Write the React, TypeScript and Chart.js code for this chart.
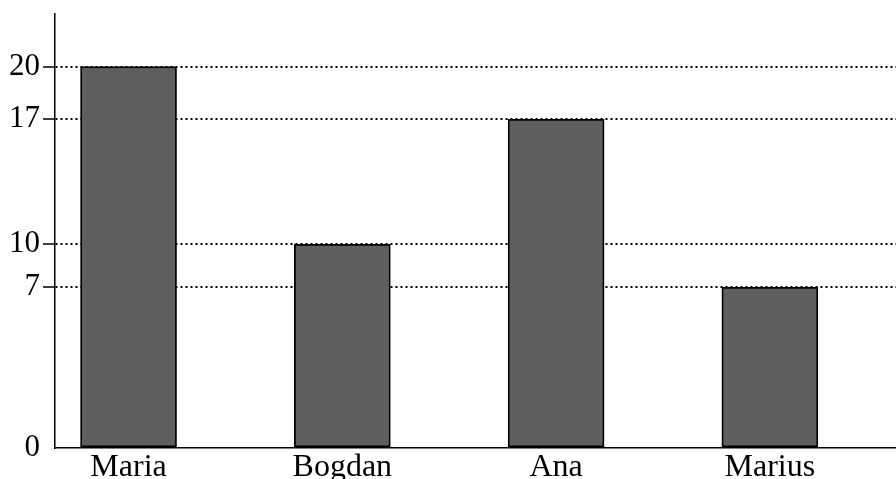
import React, { useEffect, useRef } from 'react';
import { Chart, registerables, LinearScale } from 'chart.js';

// ---- data ----
const categories = ['Maria', 'Bogdan', 'Ana', 'Marius'];
const values = [20, 10, 17, 7];
const yTickValues = [0, 7, 10, 17, 20];

// The reference axis is hand-drawn, not to scale: value -> fraction of axis height
const yKnotValues = [0, 7, 10, 17, 20, 22];
const yKnotFractions = [0, 0.3703, 0.4694, 0.7574, 0.8786, 1];

class PiecewiseScale extends LinearScale {
  static id = 'piecewise';
  static defaults = (LinearScale as any).defaults;

  getPixelForValue(value: any) {
    if (value === null || value === undefined || isNaN(value)) return NaN;
    const v = +value;
    let i = 1;
    while (i < yKnotValues.length - 1 && v > yKnotValues[i]) i++;
    const t = (v - yKnotValues[i - 1]) / (yKnotValues[i] - yKnotValues[i - 1]);
    const f = yKnotFractions[i - 1] + t * (yKnotFractions[i] - yKnotFractions[i - 1]);
    return this.getPixelForDecimal(f);
  }

  getValueForPixel(pixel: number) {
    const f = this.getDecimalForPixel(pixel);
    let i = 1;
    while (i < yKnotFractions.length - 1 && f > yKnotFractions[i]) i++;
    const t = (f - yKnotFractions[i - 1]) / (yKnotFractions[i] - yKnotFractions[i - 1]);
    return yKnotValues[i - 1] + t * (yKnotValues[i] - yKnotValues[i - 1]);
  }
}

Chart.register(...registerables, PiecewiseScale);

export default function App() {
  const ref = useRef<HTMLCanvasElement | null>(null);

  useEffect(() => {
    if (!ref.current) return;
    Chart.defaults.font.family = "'Liberation Serif', 'Times New Roman', serif";
    const chart = new Chart(ref.current, {
      type: 'bar',
      data: {
        datasets: [
          {
            data: values.map((v, i) => ({ x: i, y: v })),
            backgroundColor: '#5f5f5f',
            borderColor: '#000000',
            borderWidth: 1.8,
            borderSkipped: false,
            barThickness: 96,
          } as any,
        ],
      },
      options: {
        animation: false,
        responsive: false,
        maintainAspectRatio: false,
        layout: { padding: { top: 14, left: 0, right: 0, bottom: 0 } },
        plugins: {
          legend: { display: false },
          tooltip: { enabled: false },
          title: { display: false },
        },
        scales: {
          x: {
            type: 'linear',
            offset: false,
            min: -0.344,
            max: 3.59,
            grid: { display: false, offset: false },
            border: { display: true, color: '#000000', width: 1.5 },
            afterBuildTicks: (scale: any) => {
              scale.ticks = categories.map((_, i) => ({ value: i }));
            },
            afterFit: (scale: any) => {
              scale.height = 31;
              scale.paddingLeft = 0;
              scale.paddingRight = 0;
            },
            ticks: {
              color: '#000000',
              font: { size: 32 },
              padding: -8,
              maxRotation: 0,
              autoSkip: false,
              callback: (v: any) => categories[v] ?? '',
            },
          },
          y: {
            type: 'piecewise' as any,
            min: 0,
            max: 22,
            afterBuildTicks: (scale: any) => {
              scale.ticks = yTickValues.map((v) => ({ value: v }));
            },
            afterFit: (scale: any) => {
              scale.width = 55;
              scale.paddingTop = 0;
              scale.paddingBottom = 0;
            },
            border: { display: true, color: '#000000', width: 1.5, dash: [2, 3] },
            grid: {
              display: true,
              drawOnChartArea: true,
              drawTicks: true,
              tickLength: 12,
              tickWidth: 1.5,
              lineWidth: 2,
              color: (ctx: any) =>
                ctx.tick && ctx.tick.value === 0 ? 'rgba(0,0,0,0)' : '#000000',
              tickColor: (ctx: any) =>
                ctx.tick && ctx.tick.value === 0 ? 'rgba(0,0,0,0)' : '#000000',
              tickBorderDash: [1, 0],
            } as any,
            ticks: {
              color: '#000000',
              font: { size: 31 },
              padding: 3,
              autoSkip: false,
              callback: (v: any) => String(v),
            },
          },
        },
      } as any,
    });
    return () => chart.destroy();
  }, []);

  return (
    <div style={{ position: 'fixed', left: 0, top: 0, width: 896, height: 479, background: '#ffffff' }}>
      <canvas ref={ref} width={896} height={479} style={{ display: 'block' }} />
    </div>
  );
}
